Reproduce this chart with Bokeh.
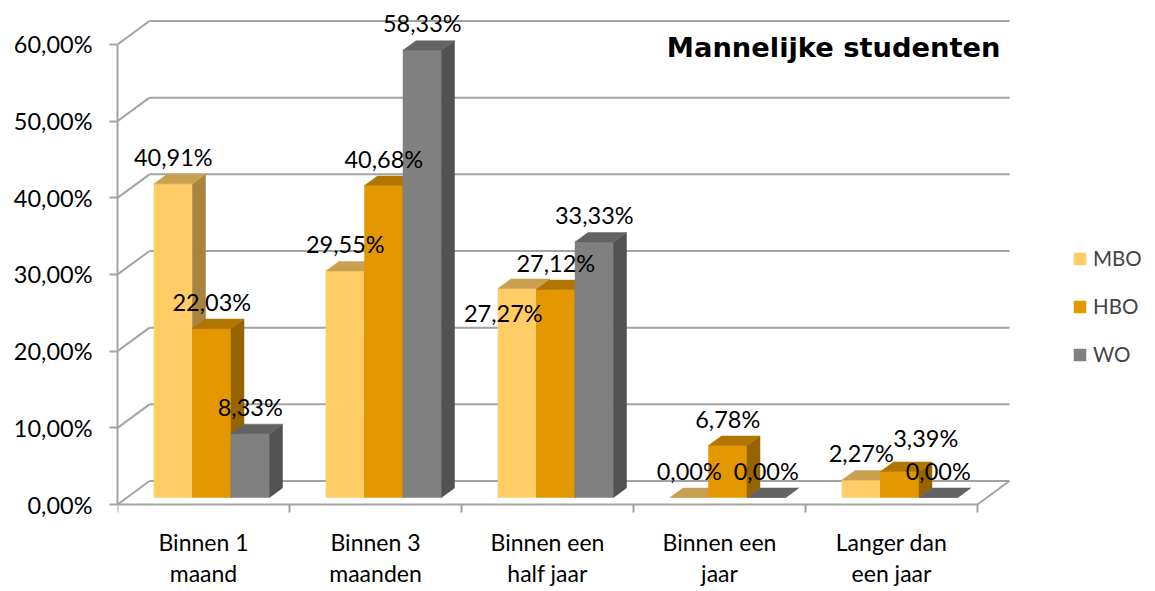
from bokeh.plotting import figure
from bokeh.models import Range1d, FixedTicker, ColumnDataSource, Legend, LegendItem, Label
from bokeh.core.properties import value
from bokeh.embed import file_html
from bokeh.resources import INLINE

# ---------------- data ----------------
categories = ["Binnen 1\nmaand", "Binnen 3\nmaanden", "Binnen een\nhalf jaar",
              "Binnen een\njaar", "Langer dan\neen jaar"]
series_names = ["MBO", "HBO", "WO"]
mbo = [40.91, 29.55, 27.27, 0.00, 2.27]
hbo = [22.03, 40.68, 27.12, 6.78, 3.39]
wo = [8.33, 58.33, 33.33, 0.00, 0.00]
y_ticks = [0, 10, 20, 30, 40, 50, 60]
title_text = "Mannelijke studenten"

# ---------------- style ----------------
front_colors = ["#FFCC66", "#E39800", "#808080"]
top_colors = ["#C9A050", "#B07600", "#636363"]
side_colors = ["#A8843F", "#966400", "#525252"]
grid_color = "#A3A3A3"
FONT = "Lato"

W, H = 1155, 591
LEFT = 117
SX = 172.0          # px per category
SY = 7.667          # px per percent
ZERO_PX = 504       # canvas y of 0 %
x_end = (W - LEFT) / SX
y_start = -(H - ZERO_PX) / SY
y_end = ZERO_PX / SY

WX, WY = 32 / SX, 23.5 / SY      # wall depth
BDX, BDY = 13 / SX, 9.5 / SY     # bar depth
G0 = 36.5 / SX                   # group left offset in category
BW = 38.5 / SX                   # bar width
BY0 = 7 / SY                     # bar base lift
LAB = 17.5 / SY                  # label above bar top-back
nudge = {(0, 2): (-14, -52), (1, 4): (26, 7)}   # (dx px, dy px) label tweaks

p = figure(width=W, height=H, x_range=Range1d(0, x_end), y_range=Range1d(y_start, y_end),
           output_backend="svg", toolbar_location=None, x_axis_type=None,
           min_border_left=LEFT, min_border_right=0, min_border_top=0, min_border_bottom=0,
           outline_line_color=None, background_fill_color="white", border_fill_color="white")
p.grid.visible = False

# ---------------- walls / gridlines ----------------
n = len(categories)
gx0, gy0, gx1, gy1 = [], [], [], []
for t in y_ticks:
    gx0 += [0, WX]; gy0 += [t, t + WY]
    gx1 += [WX, n + WX]; gy1 += [t + WY, t + WY]
# right floor edge, front floor edge and category ticks
gx0 += [n, 0]; gy0 += [0, 0]; gx1 += [n + WX, n]; gy1 += [WY, 0]
for k in range(n + 1):
    gx0.append(k); gy0.append(0); gx1.append(k); gy1.append(-8 / SY)
p.segment(x0=gx0, y0=gy0, x1=gx1, y1=gy1, line_color=grid_color, line_width=2)

# ---------------- bars ----------------
values = [mbo, hbo, wo]
front_renderers = []
lx, ly, lt = [], [], []
for s, vals in enumerate(values):
    fx, fy, tx, ty, sx_, sy_ = [], [], [], [], [], []
    for i, v in enumerate(vals):
        xl = i + G0 + s * BW
        xr = xl + BW
        yb = BY0
        yt = BY0 + v
        fx.append([xl, xr, xr, xl]); fy.append([yb, yb, yt, yt])
        tx.append([xl, xr, xr + BDX, xl + BDX]); ty.append([yt, yt, yt + BDY, yt + BDY])
        sx_.append([xr, xr + BDX, xr + BDX, xr]); sy_.append([yb, yb + BDY, yt + BDY, yt])
        dx, dy = nudge.get((s, i), (0, 0))
        lx.append((xl + xr) / 2 + dx / SX)
        ly.append(yt + BDY + LAB + dy / SY)
        lt.append(f"{v:.2f}".replace(".", ",") + "%")
    r = p.patches(fx, fy, fill_color=front_colors[s], line_color=front_colors[s], line_width=0.5)
    p.patches(sx_, sy_, fill_color=side_colors[s], line_color=side_colors[s], line_width=0.5)
    p.patches(tx, ty, fill_color=top_colors[s], line_color=top_colors[s], line_width=0.5)
    front_renderers.append(r)

# data labels
p.text(x=lx, y=ly, text=lt, text_align="center", text_baseline="middle",
       text_font=value(FONT), text_font_size="23.5px", text_color="black")

# category labels
p.text(x=[i + 0.5 for i in range(n)], y=[-(557 - ZERO_PX) / SY] * n, text=categories,
       text_align="center", text_baseline="middle", text_line_height=1.1,
       text_font=value(FONT), text_font_size="23px", text_color="black")

# ---------------- y axis ----------------
ya = p.yaxis[0]
ya.ticker = FixedTicker(ticks=y_ticks, minor_ticks=[])
ya.major_label_overrides = {t: f"{t:.2f}".replace(".", ",") + "%" for t in y_ticks}
ya.bounds = (0, 60)
ya.axis_line_color = grid_color
ya.axis_line_width = 2
ya.major_tick_line_color = grid_color
ya.major_tick_line_width = 2
ya.major_tick_out = 8
ya.major_tick_in = 0
ya.minor_tick_line_color = None
ya.major_label_standoff = 17
ya.major_label_text_font = FONT
ya.major_label_text_font_size = "23.5px"
ya.major_label_text_color = "black"

# ---------------- title ----------------
p.add_layout(Label(x=(1000 - LEFT) / SX, y=(ZERO_PX - 47) / SY, text=title_text,
                   text_align="right", text_baseline="middle",
                   text_font="DejaVu Sans", text_font_style="bold",
                   text_font_size="27.3px", text_color="black"))

# ---------------- legend ----------------
legend = Legend(items=[LegendItem(label=nm, renderers=[r]) for nm, r in zip(series_names, front_renderers)],
                location=(955, 225), orientation="vertical",
                glyph_width=15, glyph_height=15, label_standoff=6,
                label_text_font=FONT, label_text_font_size="20.5px",
                spacing=24, padding=0, margin=0,
                background_fill_alpha=0, border_line_color=None)
p.add_layout(legend)

open("out.html", "w").write(file_html(p, INLINE))
